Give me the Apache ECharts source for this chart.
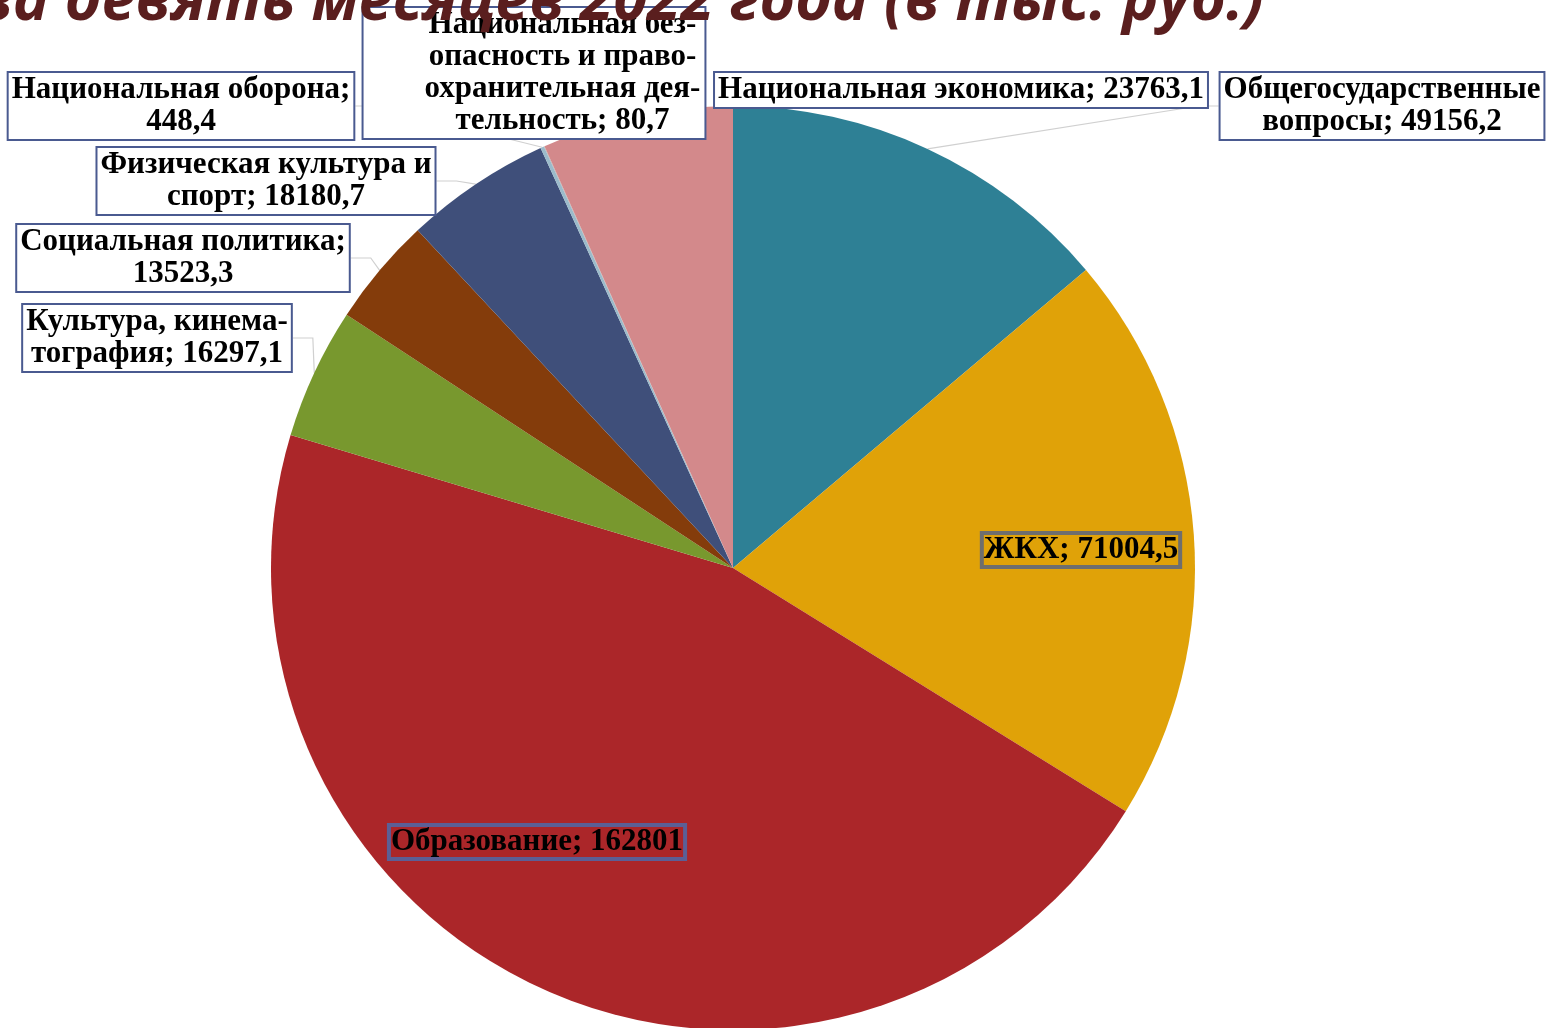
<!DOCTYPE html>
<html><head><meta charset="utf-8">
<script src="https://cdn.jsdelivr.net/npm/echarts@6.0.0/dist/echarts.min.js"></script>
<style>html,body{margin:0;padding:0;background:#fff}#c{width:1549px;height:1028px}</style>
</head><body><div id="c"></div>
<script>
const titleText = 'за девять месяцев 2022 года (в тыс. руб.)';
const categories = [
  'Общегосударственные\nвопросы',
  'ЖКХ',
  'Образование',
  'Культура, кинема-\nтография',
  'Социальная политика',
  'Физическая культура и\nспорт',
  'Национальная оборона',
  'Национальная без-\nопасность и право-\nохранительная дея-\nтельность',
  'Национальная экономика'
];
const values = [49156.2, 71004.5, 162801, 16297.1, 13523.3, 18180.7, 448.4, 80.7, 23763.1];
const colors = ['#2E8095', '#E0A208', '#AB2629', '#78982E', '#843C0B', '#3F4F7A', '#9BBBCB', '#B0B0B0', '#D3898B'];

// label layout: centre x, top y, separator between name and value, style kind, line shown
const labelPlace = [
  {x: 1382, y: 73, sep: ' ', kind: 'out', line: true},
  {x: 1081, y: 533, sep: ' ', kind: 'inGray', line: false},
  {x: 537, y: 825, sep: ' ', kind: 'inBlue', line: false},
  {x: 157, y: 305, sep: ' ', kind: 'out', line: true},
  {x: 183, y: 225, sep: '\n', kind: 'out', line: true},
  {x: 266, y: 148, sep: ' ', kind: 'out', line: true},
  {x: 181, y: 73, sep: '\n', kind: 'out', line: true},
  {x: 534, y: 8, sep: ' ', kind: 'outPad', line: false},
  {x: 961, y: 73, sep: ' ', kind: 'out', line: false}
];

const fmt = v => String(v).replace('.', ',');

const baseLabel = {
  fontFamily: 'Liberation Serif',
  fontWeight: 'bold',
  fontSize: 31,
  lineHeight: 32,
  color: '#000'
};
function labelStyle(kind) {
  if (kind === 'out') return Object.assign({}, baseLabel, {backgroundColor: '#fff', borderColor: '#4A5A90', borderWidth: 2, padding: [1, 3, 1, 3]});
  if (kind === 'outPad') return Object.assign({}, baseLabel, {backgroundColor: '#fff', borderColor: '#4A5A90', borderWidth: 2, padding: [1, 4, 1, 61]});
  if (kind === 'inGray') return Object.assign({}, baseLabel, {backgroundColor: 'transparent', borderColor: '#6E6E6E', borderWidth: 2, padding: [1, 2, 1, 2]});
  return Object.assign({}, baseLabel, {backgroundColor: 'transparent', borderColor: '#5B5F96', borderWidth: 2, padding: [1, 2, 1, 2]});
}

const data = categories.map((c, i) => ({
  name: c,
  value: values[i],
  itemStyle: {color: colors[i]},
  label: Object.assign({show: true, position: labelPlace[i].kind.startsWith('in') ? 'inside' : 'outside'}, labelStyle(labelPlace[i].kind)),
  labelLine: {show: labelPlace[i].line}
}));

const chart = echarts.init(document.getElementById('c'), null, {renderer: 'canvas'});
chart.setOption({
  animation: false,
  backgroundColor: '#fff',
  graphic: [{
    type: 'text',
    right: 1549 - 1264,
    top: -28,
    z: 100,
    style: {
      text: titleText,
      fontFamily: 'Open Sans',
      fontStyle: 'italic',
      fontWeight: 'bold',
      fontSize: 61,
      fill: '#5A1E1E'
    }
  }],
  series: [{
    type: 'pie',
    center: [733, 568],
    radius: 462,
    startAngle: 90,
    clockwise: true,
    avoidLabelOverlap: false,
    data: data,
    itemStyle: {borderWidth: 0},
    label: {
      formatter: p => p.name + ';' + labelPlace[p.dataIndex].sep + fmt(p.value)
    },
    labelLine: {
      length: 20, length2: 20,
      lineStyle: {color: '#D0D0D0', width: 1.2}
    },
    labelLayout: function (params) {
      const lp = labelPlace[params.dataIndex];
      return {x: lp.x, y: lp.y, align: 'center', verticalAlign: 'top'};
    },
    emphasis: {disabled: true}
  }]
});
</script></body></html>
